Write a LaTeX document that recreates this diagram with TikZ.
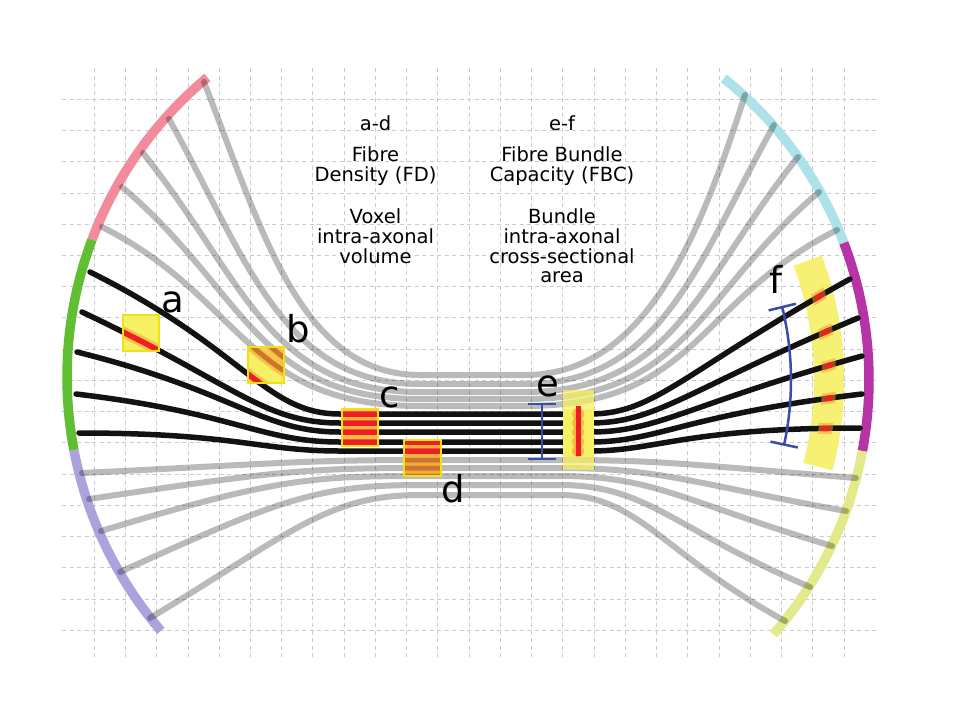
\documentclass[tikz,border=0pt]{standalone}
\usepackage{fontspec}
\setmainfont{DejaVu Sans}

\definecolor{pinkarc}{RGB}{242,140,156}
\definecolor{greenarc}{RGB}{95,190,50}
\definecolor{purplearc}{RGB}{172,162,220}
\definecolor{cyanarc}{RGB}{172,226,232}
\definecolor{magentaarc}{RGB}{182,52,165}
\definecolor{yellowarc}{RGB}{226,234,140}
\definecolor{voxyellow}{RGB}{246,240,100}
\definecolor{voxedge}{RGB}{238,226,20}
\definecolor{fibred}{RGB}{236,32,36}
\definecolor{fibbrown}{RGB}{204,118,42}
\definecolor{glow}{RGB}{248,150,50}
\definecolor{barblue}{RGB}{58,76,170}

\tikzset{
  gridline/.style={black!20, line width=1pt, dash pattern=on 4pt off 3.5pt},
  arcband/.style={line width=9.5pt},
  greyfib/.style={draw=black, draw opacity=0.27, line width=6pt, line cap=round},
  blackfib/.style={draw=black!93, line width=5.5pt, line cap=round},
  redfib/.style={draw=fibred, line width=5.5pt},
  brownfib/.style={draw=fibbrown, line width=5pt},
  glowfib/.style={draw=glow, draw opacity=0.5, line width=11pt},
  voxel/.style={fill=voxyellow},
  voxelrim/.style={draw=voxedge, line width=2pt},
  fband/.style={fill=voxyellow, fill opacity=0.9},
  bluebar/.style={draw=barblue, line width=2.5pt},
  letter/.style={font=\fontsize{37}{40}\selectfont, inner sep=0pt},
  blurb/.style={font=\fontsize{19.5}{20}\selectfont, anchor=base, inner sep=0pt}
}

\newcommand\upperfibres[1]{%
  \foreach \pa/\pb/\pc/\my/\pd/\pe/\pf in {%
    {204,82}/{262,230}/{300,375}/375/{646,375}/{700,235}/{745,95},%
    {169,119}/{247,259}/{282,384}/384/{662,384}/{697,263}/{774,125},%
    {143,153}/{244,279}/{268,392}/392/{675,392}/{699,280}/{798,157},%
    {122,187}/{245,291}/{256,399}/399/{687,399}/{699,294}/{819,192},%
    {102,227}/{245,299}/{245,406}/406/{697,406}/{696,301}/{837,230}}%
    {\draw[#1] (\pa) .. controls (\pb) and (\pc) .. (420,\my) -- (525,\my)
       .. controls (\pd) and (\pe) .. (\pf);}}

\newcommand\blackfibres[1]{%
  \foreach \pa/\pb/\pc/\my/\pd/\pe/\pf in {%
    {90,272}/{245,349}/{265,414}/414/{655,414}/{684,371}/{850,279},%
    {82,312}/{235,384}/{263,423}/423/{657,423}/{686,390}/{858,318},%
    {77,352}/{237,392}/{261,432}/432/{658,432}/{686,405}/{862,356},%
    {76,394}/{236,413}/{261,442}/442/{658,442}/{684,415}/{862,394},%
    {79,433}/{235,433}/{260,451}/451/{657,451}/{684,428}/{860,428}}%
    {\draw[#1] (\pa) .. controls (\pb) and (\pc) .. (340,\my) -- (590,\my)
       .. controls (\pd) and (\pe) .. (\pf);}}

\newcommand\lowerfibres[1]{%
  \foreach \pa/\pb/\pc/\my/\pd/\pe/\pf in {%
    {82,473}/{268,464}/{302,460}/460/{664,460}/{693,465}/{856,478},%
    {89,499}/{270,472}/{304,468}/468/{660,468}/{690,483}/{846,511},%
    {101,531}/{271,480}/{308,476}/476/{655,476}/{684,502}/{832,546},%
    {120,572}/{277,501}/{315,485}/485/{648,485}/{673,529}/{810,587},%
    {150,618}/{290,534}/{326,495}/495/{639,495}/{661,553}/{785,621}}%
    {\draw[#1] (\pa) .. controls (\pb) and (\pc) .. (420,\my) -- (560,\my)
       .. controls (\pd) and (\pe) .. (\pf);}}

\newcommand\voxelbox[2]{%
  \fill[voxel] (#1) rectangle (#2);
  \begin{scope}
    \clip (#1) rectangle (#2);
    \upperfibres{glowfib}\lowerfibres{glowfib}\blackfibres{glowfib}
    \upperfibres{brownfib}\lowerfibres{brownfib}\blackfibres{redfib}
  \end{scope}
  \draw[voxelrim] (#1) rectangle (#2);}

\begin{document}
\begin{tikzpicture}[x=1pt, y=-1pt]
  \fill[white] (0,0) rectangle (955,715);
  \useasboundingbox (0,0) rectangle (955,715);

  \foreach \i in {0,...,24}
    \draw[gridline] (94.3+31.24*\i,68) -- (94.3+31.24*\i,660);
  \foreach \j in {0,...,17}
    \draw[gridline] (62,99.3+31.24*\j) -- (876,99.3+31.24*\j);

  \begin{scope}[shift={(457,377)}, arcband]
    \draw[pinkarc] (230.2:390) arc[start angle=230.2, end angle=200.6, radius=390];
    \draw[greenarc] (200.6:390) arc[start angle=200.6, end angle=169.2, radius=390];
    \draw[purplearc] (169.2:390) arc[start angle=169.2, end angle=139.4, radius=390];
  \end{scope}
  \begin{scope}[shift={(483,380)}, arcband]
    \draw[cyanarc] (-51.4:386) arc[start angle=-51.4, end angle=-20.8, radius=386];
    \draw[magentaarc] (-20.8:386) arc[start angle=-20.8, end angle=10.6, radius=386];
    \draw[yellowarc] (10.6:386) arc[start angle=10.6, end angle=41.2, radius=386];
  \end{scope}

  \fill[fband, shift={(483,380)}] (-20.2:331) arc[start angle=-20.2, end angle=14.5, radius=331]
    -- (14.5:361) arc[start angle=14.5, end angle=-20.2, radius=361] -- cycle;

  \upperfibres{greyfib}
  \lowerfibres{greyfib}
  \blackfibres{blackfib}

  \voxelbox{123,315}{159,351}
  \voxelbox{248,347}{284,383}
  \voxelbox{342,409}{378,446}
  \voxelbox{404,440}{441,476}

  \fill[voxyellow, opacity=0.75] (563,390) rectangle (594,470);
  \fill[voxyellow] (563,409) rectangle (594,457);
  \foreach \y in {414,423,432,442,451}
    \fill[glow, opacity=0.6] (578,\y) circle[radius=6];
  \draw[fibred, line width=5pt] (578,406) -- (578,456);

  \begin{scope}[even odd rule]
    \clip (700,0) rectangle (955,715);
    \clip (483,380) circle[radius=353] (483,380) circle[radius=339];
    \blackfibres{glowfib}
  \end{scope}
  \begin{scope}[even odd rule]
    \clip (700,0) rectangle (955,715);
    \clip (483,380) circle[radius=350] (483,380) circle[radius=342];
    \blackfibres{redfib}
  \end{scope}

  \coordinate (etop) at (542,404);
  \coordinate (ebot) at (542,459);
  \draw[bluebar] (etop) -- (ebot) ([xshift=-14pt]etop) -- ([xshift=14pt]etop)
    ([xshift=-14pt]ebot) -- ([xshift=14pt]ebot);
  \begin{scope}[shift={(483,380)}]
    \draw[bluebar] (-13.7:308) arc[start angle=-13.7, end angle=12.1, radius=308];
    \draw[bluebar] (-13.7:294) -- (-13.7:322) (12.1:294) -- (12.1:322);
  \end{scope}

  \node[letter] (la) at (173,302) {a};
  \node[letter] (lb) at (298,329) {b};
  \node[letter] (lc) at (390,397) {c};
  \node[letter] (ld) at (453,489) {d};
  \node[letter] (le) at (548,386) {e};
  \node[letter] (lf) at (776,279) {f};

  \foreach \txt/\y [count=\i] in {a-d/130, Fibre/161, Density (FD)/181,
      Voxel/223, intra-axonal/243, volume/263}
    \node[blurb] (fd\i) at (375.5,\y) {\txt};
  \foreach \txt/\y [count=\i] in {e-f/130, Fibre Bundle/161, Capacity (FBC)/181,
      Bundle/223, intra-axonal/243, cross-sectional/263, area/282}
    \node[blurb] (fbc\i) at (562,\y) {\txt};
\end{tikzpicture}
\end{document}
